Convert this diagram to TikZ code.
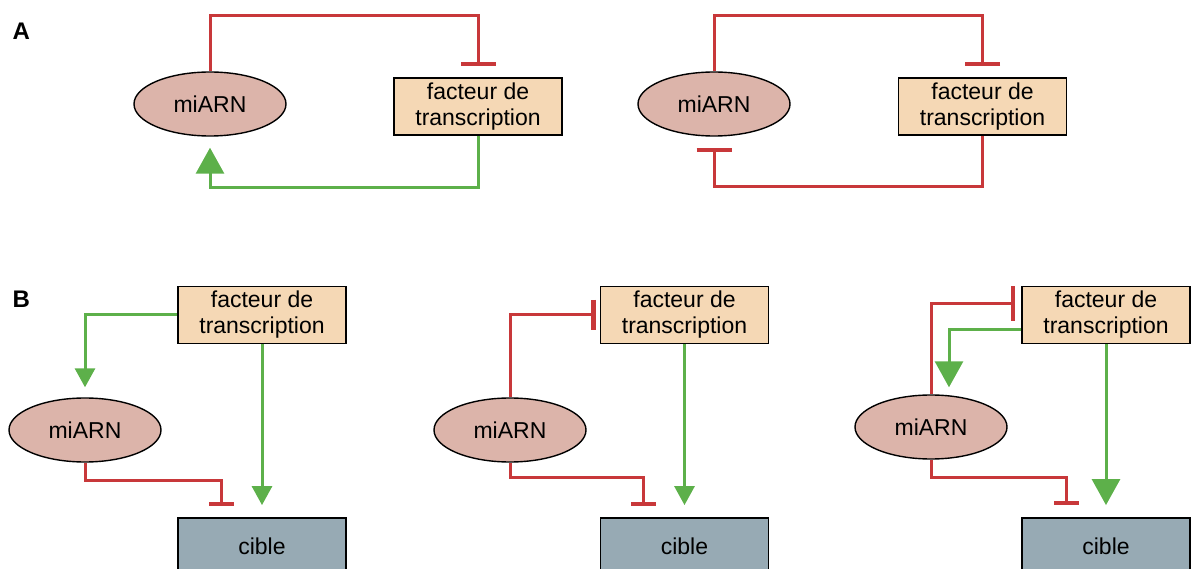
\documentclass[tikz,border=0pt]{standalone}
\usepackage{fontspec}
\setmainfont{Liberation Sans}
\usepackage{xcolor}
\usepackage{tikz}
\usetikzlibrary{arrows.meta,positioning,calc,shapes.geometric}
\definecolor{inhred}{HTML}{C8383A}
\definecolor{actgreen}{HTML}{5DB04A}
\definecolor{tfpeach}{HTML}{F5D8B5}
\definecolor{mirpink}{HTML}{DCB4AA}
\definecolor{cibgray}{HTML}{97AAB4}

\begin{document}
\begin{tikzpicture}[x=1pt, y=-1pt,
  font=\fontsize{23}{26}\selectfont,
  box/.style={draw, line width=1.8pt, minimum width=168pt, minimum height=57pt, inner sep=0pt, align=center},
  tf/.style={box, fill=tfpeach},
  cib/.style={box, fill=cibgray},
  mir/.style={draw, ellipse, line width=1.4pt, fill=mirpink, minimum width=152pt, minimum height=64pt, inner sep=0pt},
  inh/.style={draw=inhred, line width=3pt, -{Bar[width=35pt, line width=4.5pt]}, shorten >=11pt},
  inhs/.style={inh, -{Bar[width=25pt, line width=4.5pt]}},
  act/.style={draw=actgreen, line width=3pt, -{Triangle[length=26pt,width=28pt]}, shorten >=11pt},
  acts/.style={act, -{Triangle[length=19pt,width=20pt]}},
  lbl/.style={font=\fontsize{24}{28}\selectfont\bfseries, anchor=base west}]
  \path[use as bounding box] (0,0) rectangle (1192,569);
  \clip (0,0) rectangle (1192,569);
  % panel A
  \node[lbl] (labA) at (9,40) {A};
  \node[mir] (mirL) at (210,104) {miARN};
  \node[tf] (tfL) at (478,106.5) {facteur de\\transcription};
  \node[mir] (mirR) at (714,104) {miARN};
  \node[tf] (tfR) at (982.5,106.5) {facteur de\\transcription};
  \draw[inh] (mirL.north) -- (mirL.north |- 0,16) -| (tfL.north);
  \draw[act] (tfL.south) -- (tfL.south |- 0,188) -| (mirL.south);
  \draw[inh] (mirR.north) -- (mirR.north |- 0,16) -| (tfR.north);
  \draw[inh] (tfR.south) -- (tfR.south |- 0,187) -| (mirR.south);
  % panel B
  \node[lbl] (labB) at (9,308) {B};
  \node[tf] (tf1) at (262,315) {facteur de\\transcription};
  \node[mir] (mir1) at (85,430) {miARN};
  \node[cib] (cib1) at (262,546.5) {cible};
  \draw[acts, shorten >=10pt] (tf1.west) -| (mir1.north);
  \draw[inhs] (mir1.south) -- ++(0,18) -| ([xshift=-41pt]cib1.north);
  \draw[acts, shorten >=12pt] (tf1.south) -- (cib1.north);
  \node[tf] (tf2) at (684.5,315) {facteur de\\transcription};
  \node[mir] (mir2) at (510,430) {miARN};
  \node[cib] (cib2) at (684.5,546.5) {cible};
  \draw[inh, shorten >=4pt, -{Bar[width=30pt, line width=4.5pt]}] (mir2.north) |- (tf2.west);
  \draw[inhs] (mir2.south) -- ++(0,15) -| ([xshift=-41.5pt]cib2.north);
  \draw[acts, shorten >=12pt] (tf2.south) -- (cib2.north);
  \node[tf] (tf3) at (1106,315) {facteur de\\transcription};
  \node[mir] (mir3) at (931,427) {miARN};
  \node[cib] (cib3) at (1106,546.5) {cible};
  \draw[inh, shorten >=6pt] (mir3.north) |- ([yshift=11pt]tf3.west);
  \draw[act, shorten >=7pt] ([yshift=-15pt]tf3.west) -| ([xshift=18pt]mir3.north);
  \draw[inhs, shorten >=12pt] (mir3.south) -- ++(0,18) -| ([xshift=-40pt]cib3.north);
  \draw[act, shorten >=12pt] (tf3.south) -- (cib3.north);
\end{tikzpicture}
\end{document}
